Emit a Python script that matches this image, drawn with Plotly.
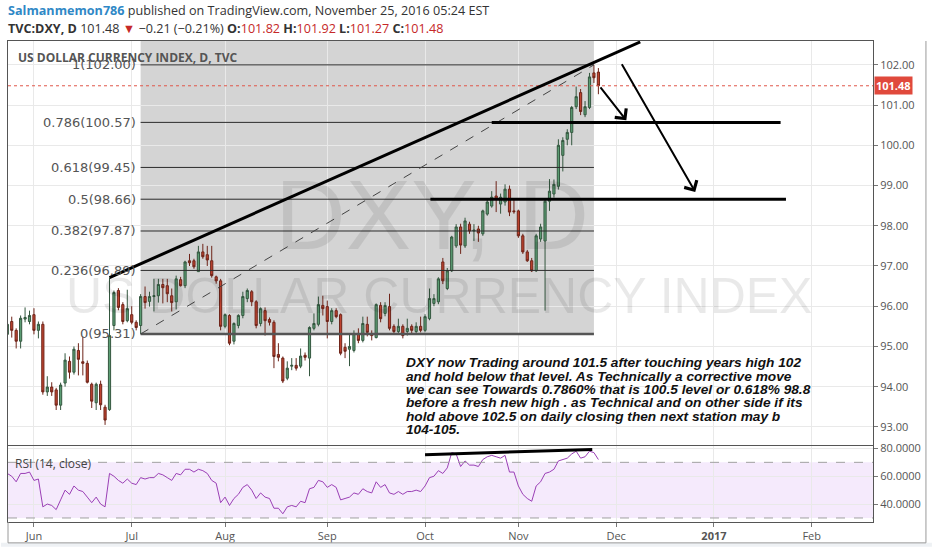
import plotly.graph_objects as go
import pandas as pd

# ---------------- data ----------------
dates = pd.bdate_range("2016-05-24", "2016-11-25").strftime("%Y-%m-%d").tolist()

opens = [95.30, 95.62, 95.40, 95.13, 95.68, 95.62, 95.79, 95.40, 95.55, 93.87,
         93.99, 93.92, 93.54, 94.09, 94.63, 94.36, 94.90, 94.62, 94.58, 94.06,
         93.60, 94.06, 93.49, 93.43, 95.52, 96.39, 96.04, 95.64, 95.79, 95.60,
         95.52, 96.24, 96.12, 96.24, 96.26, 96.54, 96.51, 96.26, 96.11, 96.66,
         96.51, 97.13, 97.13, 96.86, 97.35, 97.28, 97.13, 96.73, 96.63, 95.50,
         95.77, 95.13, 95.52, 95.77, 96.19, 96.36, 96.11, 95.57, 95.89, 95.67,
         95.60, 94.80, 94.71, 94.21, 94.51, 94.53, 94.51, 94.78, 94.71, 95.45,
         95.55, 96.02, 95.99, 95.62, 95.89, 95.79, 94.98, 94.93, 94.90, 95.32,
         95.15, 95.55, 95.32, 95.22, 96.02, 95.82, 95.99, 95.50, 95.37, 95.50,
         95.37, 95.50, 95.37, 95.50, 95.40, 95.69, 96.07, 96.11, 97.10, 96.44,
         96.88, 97.50, 97.97, 97.50, 98.04, 97.87, 97.92, 97.80, 98.29, 98.49,
         98.74, 98.54, 98.59, 98.91, 98.37, 98.37, 97.75, 97.35, 97.13, 96.88,
         97.67, 97.62, 98.61, 98.79, 98.98, 99.75, 100.15, 100.32, 100.96, 101.31,
         100.76, 100.94, 101.80, 101.82]
highs = [95.62, 95.74, 95.45, 95.77, 95.97, 95.89, 95.95, 95.62, 95.62, 94.26,
         94.11, 93.97, 94.10, 94.83, 94.75, 95.00, 95.08, 95.25, 94.65, 94.10,
         94.10, 94.15, 93.55, 96.71, 96.39, 96.45, 96.10, 96.41, 96.00, 95.65,
         96.30, 96.49, 96.36, 96.68, 96.68, 96.68, 96.68, 96.44, 96.76, 96.73,
         97.13, 97.30, 97.18, 97.50, 97.55, 97.50, 97.50, 96.76, 96.68, 95.82,
         95.80, 95.60, 95.80, 96.36, 96.44, 96.40, 96.15, 95.97, 95.97, 95.72,
         95.65, 95.08, 94.75, 94.63, 94.71, 94.71, 94.95, 94.85, 95.50, 95.82,
         96.24, 96.26, 96.14, 95.95, 95.95, 95.82, 95.08, 95.32, 95.40, 95.45,
         95.74, 95.74, 95.40, 96.07, 96.10, 96.10, 96.31, 95.55, 95.69, 95.55,
         95.69, 95.55, 95.60, 95.74, 95.80, 96.44, 96.30, 96.72, 97.20, 96.95,
         97.75, 98.04, 98.05, 98.20, 98.10, 98.04, 98.00, 98.40, 98.65, 98.86,
         99.11, 98.80, 99.03, 99.00, 98.66, 98.40, 97.80, 97.40, 97.20, 97.80,
         98.05, 98.66, 99.16, 99.15, 100.15, 100.20, 100.40, 100.98, 101.46, 101.40,
         101.10, 101.80, 102.00, 101.92]
lows = [95.20, 95.22, 94.95, 94.95, 95.60, 95.55, 95.30, 95.20, 93.80, 93.77,
        93.77, 93.42, 93.42, 94.00, 94.20, 94.30, 94.28, 94.28, 94.08, 93.47,
        93.42, 93.42, 93.05, 93.40, 95.40, 95.90, 95.55, 95.60, 95.55, 95.40,
        95.31, 95.94, 95.99, 95.87, 96.09, 96.07, 96.10, 95.87, 95.92, 96.49,
        96.45, 97.00, 96.93, 96.86, 97.18, 97.00, 96.71, 96.56, 95.40, 95.45,
        95.03, 95.05, 95.45, 95.70, 96.10, 96.00, 95.45, 95.50, 95.27, 95.52,
        94.46, 94.63, 94.09, 94.16, 94.41, 94.40, 94.46, 94.65, 94.26, 95.40,
        95.50, 95.77, 95.20, 95.55, 95.70, 94.78, 94.71, 94.51, 94.85, 95.08,
        95.10, 95.25, 95.15, 95.20, 95.60, 95.75, 95.40, 95.30, 95.30, 95.20,
        95.27, 95.30, 95.30, 95.35, 95.35, 95.65, 96.00, 96.05, 96.55, 96.40,
        96.85, 97.45, 97.30, 97.45, 97.80, 97.62, 97.60, 97.75, 98.25, 98.45,
        98.34, 98.30, 98.50, 98.24, 98.30, 97.70, 97.30, 97.10, 96.85, 96.85,
        97.60, 95.89, 98.37, 98.70, 98.90, 99.35, 100.00, 100.00, 100.90, 100.75,
        100.70, 100.90, 101.55, 101.27]
closes = [95.55, 95.40, 95.13, 95.70, 95.72, 95.77, 95.40, 95.55, 93.87, 93.99,
          93.87, 93.54, 94.04, 94.66, 94.36, 94.93, 94.68, 94.58, 94.11, 93.64,
          94.06, 93.55, 93.17, 95.27, 96.34, 95.97, 95.62, 95.94, 95.60, 95.47,
          96.24, 96.09, 96.24, 96.26, 96.54, 96.46, 96.31, 96.09, 96.68, 96.51,
          97.10, 97.08, 96.98, 97.35, 97.23, 97.15, 96.76, 96.63, 95.50, 95.79,
          95.08, 95.57, 95.77, 96.24, 96.39, 96.11, 95.52, 95.94, 95.64, 95.60,
          94.75, 94.73, 94.14, 94.46, 94.53, 94.46, 94.76, 94.73, 95.47, 95.57,
          96.04, 95.94, 95.62, 95.89, 95.74, 94.83, 94.88, 95.00, 95.32, 95.15,
          95.57, 95.35, 95.27, 96.04, 95.69, 96.02, 95.45, 95.37, 95.50, 95.27,
          95.45, 95.40, 95.50, 95.40, 95.74, 96.19, 96.19, 96.68, 96.63, 96.88,
          97.72, 97.97, 97.52, 98.12, 97.87, 97.89, 97.82, 98.37, 98.59, 98.71,
          98.66, 98.71, 98.91, 98.34, 98.35, 97.75, 97.35, 97.13, 96.88, 97.75,
          97.97, 98.61, 98.86, 99.03, 100.00, 100.12, 100.32, 100.94, 101.21, 100.84,
          100.96, 101.70, 101.68, 101.48]
rsi = [62, 60, 56, 62, 62, 63, 57, 58, 38, 40,
       39, 36, 43, 50, 47, 53, 50, 49, 45, 41,
       45, 40, 38, 62, 60, 57, 55, 58, 55, 54,
       59, 58, 59, 59, 62, 61, 59, 57, 62, 61,
       65, 65, 63, 65, 64, 62, 57, 55, 41, 45,
       39, 44, 47, 52, 54, 50, 44, 48, 45, 44,
       37, 37, 33, 38, 39, 38, 42, 41, 51, 52,
       57, 56, 52, 54, 52, 43, 44, 45, 48, 47,
       51, 49, 48, 56, 52, 54, 48, 47, 49, 47,
       49, 49, 50, 49, 53, 59, 60, 64, 62, 66,
       77, 76, 67, 71, 68, 68, 67, 72, 74, 75,
       74, 73, 75, 63, 63, 53, 47, 44, 42, 53,
       56, 62, 63, 65, 71, 72, 73, 76, 78, 73,
       74, 78, 77, 72]

fib_ratios = ["1", "0.786", "0.618", "0.5", "0.382", "0.236", "0"]
fib_levels = [102.00, 100.57, 99.45, 98.66, 97.87, 96.89, 95.31]
fib_start = "2016-07-05"
fib_end = "2016-11-24"

trend_x = ["2016-06-24", "2016-12-08 10:00"]
trend_y = [96.71, 102.57]

level_y = [100.57, 98.66]
level_x0 = ["2016-10-24", "2016-10-04 05:00"]
level_x1 = ["2017-01-23", "2017-01-24 05:00"]

arrow_tail_x = ["2016-11-25 05:00", "2016-12-02 02:00"]
arrow_tail_y = [101.48, 102.05]
arrow_head_x = ["2016-12-05 07:00", "2016-12-26 19:00"]
arrow_head_y = [100.62, 98.84]

rsi_trend_x = ["2016-10-03", "2016-11-23 15:00"]
rsi_trend_y = [75.5, 79.3]

price_ticks = [93, 94, 95, 96, 97, 98, 99, 100, 101, 102]
price_text = ["93.00", "94.00", "95.00", "96.00", "97.00", "98.00", "99.00",
              "100.00", "101.00", "102.00"]
rsi_ticks = [40, 60, 80]
rsi_text = ["40.0000", "60.0000", "80.0000"]
month_ticks = ["2016-06-01", "2016-07-01", "2016-08-01", "2016-09-01", "2016-10-03",
               "2016-11-01", "2016-12-01", "2017-01-02", "2017-02-01"]
month_text = ["Jun", "Jul", "Aug", "Sep", "Oct", "Nov", "Dec", "<b>2017</b>", "Feb"]
last_price = 101.48

note_lines = [
    "DXY now Trading around 101.5 after touching years high 102",
    "and hold below that level. As Technically a corrective move",
    "we can see Towards 0.7860% that is 100.5 level or 0.618% 98.8",
    "before a fresh new high . as Technical and on other side if its",
    "hold above 102.5 on daily closing then next station may b",
    "104-105.",
]

# ---------------- layout geometry (pixels) ----------------
W, H = 932, 550
L, R, T, B = 7, 873, 41, 525


def px(x):
    return (x - L) / (R - L)


def py(y):
    return (B - y) / (B - T)


x_range = ["2016-05-24 03:50", "2017-02-20 19:00"]
breaks = [dict(bounds=["sat", "mon"])]
FONT = "Open Sans"
GRID = "#e9e9e9"
AXC = "#555555"

fig = go.Figure()

fig.add_trace(go.Candlestick(
    x=dates, open=opens, high=highs, low=lows, close=closes,
    xaxis="x", yaxis="y",
    increasing=dict(line=dict(color="#34573f", width=1), fillcolor="#5c9e74"),
    decreasing=dict(line=dict(color="#6e2419", width=1), fillcolor="#bf4430"),
    whiskerwidth=0, showlegend=False, hoverinfo="skip",
))

fig.add_trace(go.Scatter(
    x=dates, y=rsi, xaxis="x2", yaxis="y2", mode="lines",
    line=dict(color="#9a3fb5", width=1), showlegend=False, hoverinfo="skip",
))

shapes = []
annotations = []

# Fibonacci background box
shapes.append(dict(type="rect", xref="x", yref="y", x0=fib_start, x1=fib_end,
                   y0=fib_levels[-1], y1=110, fillcolor="rgba(0,0,0,0.17)",
                   line=dict(width=0), layer="below"))
for r, lv in zip(fib_ratios, fib_levels):
    is_zero = (r == "0")
    shapes.append(dict(type="line", xref="x", yref="y", x0=fib_start, x1=fib_end,
                       y0=lv, y1=lv,
                       line=dict(color="#555555" if is_zero else "#2b2b2b",
                                 width=2.5 if is_zero else 1)))
    annotations.append(dict(xref="x", yref="y", x=fib_start, y=lv,
                            text=f"{r}({lv:.2f})", showarrow=False,
                            xanchor="right", yanchor="middle", xshift=-3,
                            font=dict(family="DejaVu Sans", size=13, color="#555555")))
# Fib diagonal
shapes.append(dict(type="line", xref="x", yref="y", x0=fib_start, x1=fib_end,
                   y0=fib_levels[-1], y1=fib_levels[0],
                   line=dict(color="#444444", width=1, dash="dash")))

# last price dotted line
shapes.append(dict(type="line", xref="paper", yref="y", x0=0, x1=1,
                   y0=last_price, y1=last_price,
                   line=dict(color="#e0574a", width=1, dash="dot")))

# trend line
shapes.append(dict(type="line", xref="x", yref="y", x0=trend_x[0], x1=trend_x[1],
                   y0=trend_y[0], y1=trend_y[1],
                   line=dict(color="#000000", width=3)))
# horizontal levels
for y, a, b in zip(level_y, level_x0, level_x1):
    shapes.append(dict(type="line", xref="x", yref="y", x0=a, x1=b, y0=y, y1=y,
                       line=dict(color="#000000", width=3)))

# arrows
for tx, ty, hx, hy in zip(arrow_tail_x, arrow_tail_y, arrow_head_x, arrow_head_y):
    annotations.append(dict(xref="x", yref="y", axref="x", ayref="y",
                            x=hx, y=hy, ax=tx, ay=ty, text="", showarrow=True,
                            arrowhead=4, arrowsize=1.4, arrowwidth=2,
                            arrowcolor="#000000"))

# RSI band
shapes.append(dict(type="rect", xref="x2 domain", yref="y2", x0=0, x1=1, y0=30, y1=70,
                   fillcolor="#f5eafc", line=dict(width=0), layer="below"))
for lv in (30, 70):
    shapes.append(dict(type="line", xref="x2 domain", yref="y2", x0=0, x1=1,
                       y0=lv, y1=lv, line=dict(color="#a0a0a0", width=1, dash="dash")))
shapes.append(dict(type="line", xref="x2", yref="y2", x0=rsi_trend_x[0],
                   x1=rsi_trend_x[1], y0=rsi_trend_y[0], y1=rsi_trend_y[1],
                   line=dict(color="#000000", width=3)))

# bottom strip and outer frame
shapes.append(dict(type="rect", xref="paper", yref="paper", x0=px(0), x1=px(W),
                   y0=py(H), y1=py(546), fillcolor="#eef1f4", line=dict(width=0)))
shapes.append(dict(type="line", xref="paper", yref="paper", x0=px(L), x1=px(926),
                   y0=py(546), y1=py(546), line=dict(color="#9a9a9a", width=1)))
shapes.append(dict(type="line", xref="paper", yref="paper", x0=px(926), x1=px(926),
                   y0=py(T), y1=py(546), line=dict(color="#9a9a9a", width=1)))
shapes.append(dict(type="line", xref="paper", yref="paper", x0=px(L), x1=px(L),
                   y0=py(B), y1=py(546), line=dict(color="#9a9a9a", width=1)))

# watermarks
annotations.append(dict(xref="paper", yref="paper", x=px(431), y=py(216),
                        text="DXY, D", showarrow=False,
                        font=dict(family="Liberation Sans", size=98,
                                  color="rgba(0,0,0,0.085)")))
annotations.append(dict(xref="paper", yref="paper", x=px(438), y=py(298),
                        text="US DOLLAR CURRENCY INDEX", showarrow=False,
                        font=dict(family="Liberation Sans", size=50,
                                  color="rgba(0,0,0,0.085)")))

# legend title in the pane
annotations.append(dict(xref="paper", yref="paper", x=px(15), y=py(58),
                        xanchor="left", yanchor="middle", showarrow=False,
                        text="<b>US DOLLAR CURRENCY INDEX, D, TVC</b>",
                        font=dict(family=FONT, size=12, color="#555555")))

# last price label
annotations.append(dict(xref="paper", yref="y", x=1, y=last_price, xanchor="left",
                        yanchor="middle", xshift=1, showarrow=False,
                        text="<b>" + f"{last_price:.2f}" + "</b>",
                        bgcolor="#e0493c", borderpad=1,
                        font=dict(family=FONT, size=11, color="#ffffff")))

# RSI label
annotations.append(dict(xref="paper", yref="paper", x=px(12), y=py(466),
                        xanchor="left", yanchor="middle", showarrow=False,
                        text="RSI (14, close)",
                        font=dict(family=FONT, size=12, color="#444444")))

# comment text
for k, line in enumerate(note_lines):
    annotations.append(dict(xref="paper", yref="paper", x=px(403), y=py(365 + 13.4 * k),
                            xanchor="left", yanchor="middle", showarrow=False,
                            text="<b><i>" + line + "</i></b>",
                            font=dict(family="Liberation Sans", size=13.7,
                                      color="#111111")))

# header
red = "#c62828"
dark = "#333333"
hdr1 = ("<b><span style='color:#2f88c6'>Salmanmemon786</span></b>"
        "<span style='color:#333333'> published on TradingView.com, "
        "November 25, 2016 05:24 EST</span>")
hdr2 = (f"<b><span style='color:{dark}'>TVC:DXY, D</span></b>"
        f"<span style='color:{dark}'> 101.48 </span>"
        f"<span style='color:{red}'>▼</span>"
        f"<span style='color:{dark}'> −0.21 (−0.21%) </span>"
        f"<b><span style='color:{dark}'>O:</span></b><span style='color:{red}'>101.82</span>"
        f"<b><span style='color:{dark}'> H:</span></b><span style='color:{red}'>101.92</span>"
        f"<b><span style='color:{dark}'> L:</span></b><span style='color:{red}'>101.27</span>"
        f"<b><span style='color:{dark}'> C:</span></b><span style='color:{red}'>101.48</span>")
annotations.append(dict(xref="paper", yref="paper", x=px(5), y=py(10), xanchor="left",
                        yanchor="middle", showarrow=False, text=hdr1,
                        font=dict(family=FONT, size=12.6, color=dark)))
annotations.append(dict(xref="paper", yref="paper", x=px(5), y=py(28), xanchor="left",
                        yanchor="middle", showarrow=False, text=hdr2,
                        font=dict(family=FONT, size=12.6, color=dark)))

main_bottom = py(448)
rsi_top = py(449)

fig.update_layout(
    width=W, height=H,
    margin=dict(l=L, r=W - R, t=T, b=H - B, pad=0),
    paper_bgcolor="#ffffff", plot_bgcolor="#ffffff",
    font=dict(family=FONT, size=11, color="#555555"),
    showlegend=False, hovermode=False,
    shapes=shapes, annotations=annotations,
    xaxis=dict(domain=[0, 1], anchor="y", type="date", range=x_range,
               rangebreaks=breaks, rangeslider=dict(visible=False),
               tickvals=month_ticks, ticktext=month_text, showticklabels=False,
               showgrid=True, gridcolor=GRID, gridwidth=1, ticks="",
               showline=True, linecolor=AXC, linewidth=1, mirror=True,
               zeroline=False, fixedrange=True),
    yaxis=dict(domain=[main_bottom, 1], anchor="x", side="right",
               range=[92.538, 102.593], tickvals=price_ticks, ticktext=price_text,
               ticks="outside", ticklen=4, tickcolor="#777777",
               tickfont=dict(family=FONT, size=11, color="#555555"),
               showgrid=True, gridcolor=GRID, showline=True, linecolor=AXC,
               linewidth=1, mirror=True, zeroline=False),
    xaxis2=dict(domain=[0, 1], anchor="y2", type="date", range=x_range,
                matches="x", rangebreaks=breaks, rangeslider=dict(visible=False),
                tickvals=month_ticks, ticktext=month_text,
                ticks="outside", ticklen=4, tickcolor="#777777",
                tickfont=dict(family=FONT, size=11, color="#555555"),
                showgrid=True, gridcolor=GRID, showline=True, linecolor=AXC,
                linewidth=1, mirror=True, zeroline=False),
    yaxis2=dict(domain=[0, rsi_top], anchor="x2", side="right",
                range=[27.1, 81.4], tickvals=rsi_ticks, ticktext=rsi_text,
                ticks="outside", ticklen=4, tickcolor="#777777",
                tickfont=dict(family=FONT, size=11, color="#555555"),
                showgrid=True, gridcolor=GRID, showline=True, linecolor=AXC,
                linewidth=1, mirror=True, zeroline=False),
)

fig.write_html("out.html", config={"displayModeBar": False, "staticPlot": True},
               post_script="document.body.style.margin='0px';document.body.style.overflow='hidden';")
